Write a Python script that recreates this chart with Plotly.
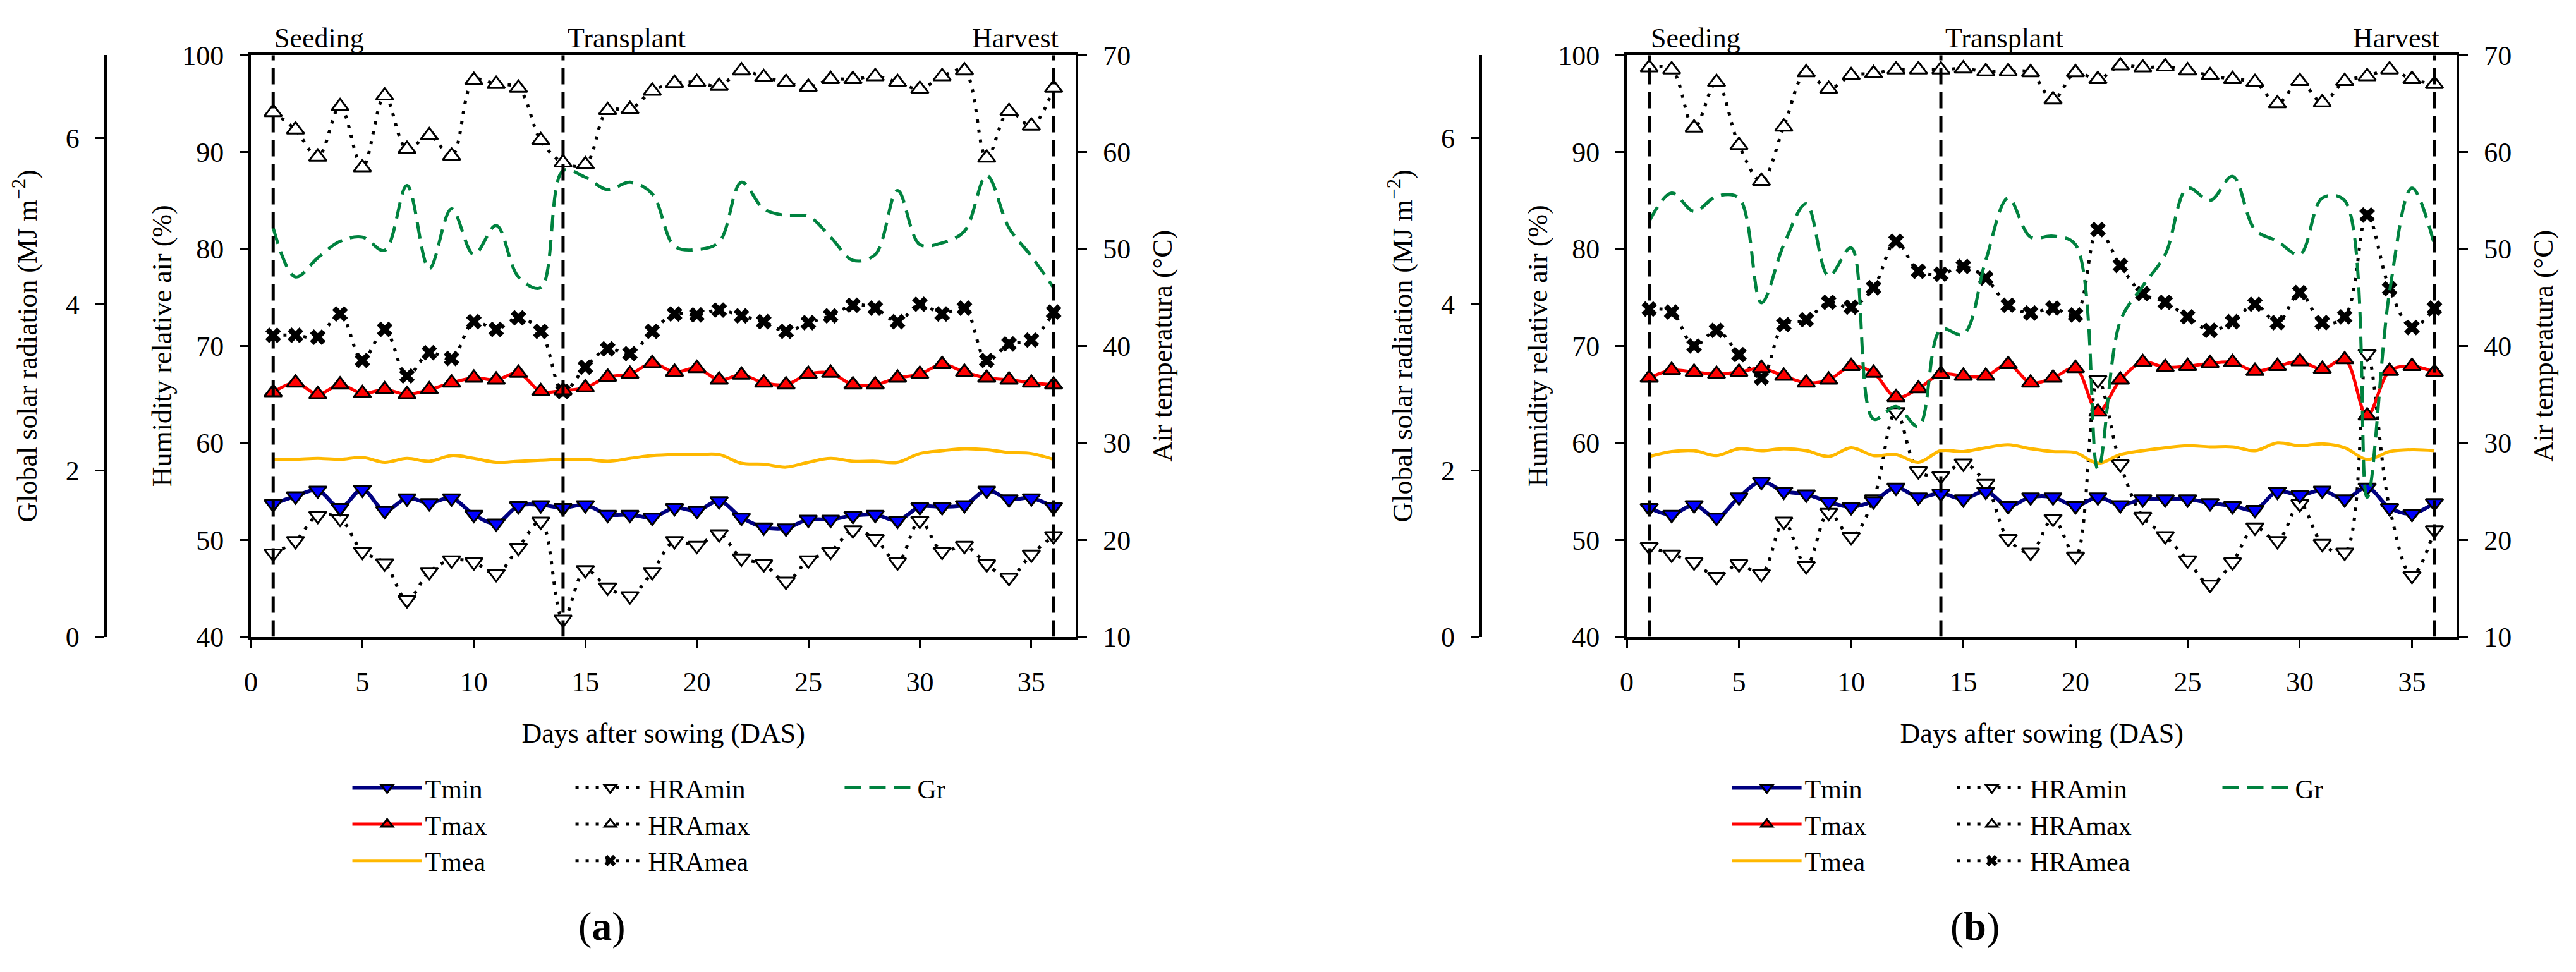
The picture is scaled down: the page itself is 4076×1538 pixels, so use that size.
import plotly.graph_objects as go

# browser keeps its 8px body margin, so the figure is drawn 16px smaller
FW, FH = 4060, 1522
OFF = 8
FONT = "Liberation Serif"


def fx(px):
    return (px - OFF) / FW


def fy(py):
    return 1 - (py - OFF) / FH


days = list(range(1, 37))

# ---- panel (a) ----
tmin_a = [23.7, 24.5, 25.1, 23.3, 25.2, 23.0, 24.3, 23.8, 24.3, 22.6, 21.7, 23.5,
          23.6, 23.3, 23.6, 22.6, 22.6, 22.3, 23.3, 23.0, 24.0, 22.3, 21.3, 21.2,
          22.1, 22.1, 22.5, 22.6, 22.0, 23.4, 23.4, 23.6, 25.1, 24.2, 24.3, 23.4]
tmax_a = [35.2, 36.2, 35.0, 36.0, 35.1, 35.5, 35.0, 35.5, 36.2, 36.7, 36.5, 37.2,
          35.3, 35.4, 35.7, 36.8, 37.1, 38.2, 37.3, 37.7, 36.5, 37.0, 36.2, 36.0,
          37.1, 37.2, 36.0, 36.0, 36.7, 37.1, 38.1, 37.3, 36.7, 36.5, 36.2, 36.0]
tmea_a = [28.3, 28.3, 28.4, 28.3, 28.5, 28.0, 28.4, 28.1, 28.7, 28.4, 28.0, 28.1,
          28.2, 28.3, 28.3, 28.1, 28.4, 28.7, 28.8, 28.8, 28.8, 27.9, 27.8, 27.5,
          28.0, 28.4, 28.1, 28.1, 28.0, 28.9, 29.2, 29.4, 29.3, 29.0, 28.9, 28.3]
hramin_a = [48.6, 49.9, 52.5, 52.2, 48.8, 47.6, 43.8, 46.7, 47.9, 47.7, 46.5, 49.2,
            51.9, 41.8, 46.9, 45.1, 44.2, 46.7, 49.9, 49.4, 50.6, 48.1, 47.5, 45.7,
            47.9, 48.8, 51.0, 50.1, 47.7, 52.0, 48.8, 49.4, 47.5, 46.1, 48.5, 50.4]
hramax_a = [94.1, 92.3, 89.5, 94.7, 88.4, 95.8, 90.3, 91.7, 89.6, 97.4, 97.0, 96.6,
            91.2, 88.9, 88.7, 94.3, 94.4, 96.3, 97.1, 97.2, 96.8, 98.4, 97.7, 97.2,
            96.7, 97.5, 97.5, 97.8, 97.2, 96.5, 97.8, 98.4, 89.4, 94.2, 92.7, 96.6]
hramea_a = [71.1, 71.1, 70.9, 73.3, 68.5, 71.7, 66.9, 69.3, 68.7, 72.5, 71.7, 72.9,
            71.5, 65.3, 67.8, 69.7, 69.2, 71.5, 73.3, 73.2, 73.7, 73.1, 72.5, 71.5,
            72.4, 73.1, 74.2, 73.9, 72.5, 74.3, 73.3, 73.9, 68.5, 70.2, 70.6, 73.5]
gr_a = [4.92, 4.33, 4.56, 4.76, 4.81, 4.65, 5.43, 4.43, 5.15, 4.60, 4.95, 4.33,
        4.20, 5.61, 5.53, 5.38, 5.47, 5.33, 4.70, 4.66, 4.75, 5.47, 5.15, 5.07,
        5.06, 4.81, 4.53, 4.60, 5.37, 4.72, 4.74, 4.88, 5.55, 4.92, 4.58, 4.20]

# ---- panel (b) ----
tmin_b = [23.3, 22.6, 23.6, 22.3, 24.4, 26.0, 25.0, 24.7, 23.9, 23.4, 24.0, 25.4,
          24.4, 24.8, 24.2, 25.0, 23.5, 24.4, 24.4, 23.5, 24.4, 23.6, 24.2, 24.2,
          24.2, 23.8, 23.5, 23.1, 25.0, 24.6, 25.1, 24.2, 25.4, 23.3, 22.7, 23.8]
tmax_b = [36.7, 37.5, 37.3, 37.1, 37.3, 37.7, 36.9, 36.2, 36.5, 37.9, 37.2, 34.7,
          35.6, 37.1, 36.9, 36.9, 38.1, 36.2, 36.7, 37.7, 33.2, 36.5, 38.3, 37.8,
          37.9, 38.2, 38.3, 37.4, 37.9, 38.4, 37.6, 38.6, 32.8, 37.4, 37.9, 37.3]
tmea_b = [28.6, 29.1, 29.2, 28.7, 29.4, 29.2, 29.4, 29.2, 28.6, 29.5, 28.7, 28.8,
          28.0, 29.2, 29.1, 29.5, 29.8, 29.4, 29.1, 29.0, 27.9, 28.8, 29.2, 29.5,
          29.7, 29.6, 29.6, 29.2, 30.0, 29.7, 29.9, 29.5, 28.3, 29.1, 29.3, 29.2]
hramin_b = [49.3, 48.5, 47.7, 46.2, 47.5, 46.5, 51.9, 47.3, 52.8, 50.3, 54.2, 63.2,
            57.1, 56.6, 57.9, 55.8, 50.1, 48.7, 52.2, 48.3, 66.5, 57.8, 52.4, 50.4,
            47.9, 45.4, 47.7, 51.3, 49.9, 53.7, 49.6, 48.7, 69.2, 53.3, 46.3, 51.0]
hramax_b = [98.7, 98.5, 92.5, 97.2, 90.7, 87.0, 92.6, 98.2, 96.5, 97.9, 98.1, 98.5,
            98.5, 98.5, 98.6, 98.3, 98.3, 98.2, 95.4, 98.2, 97.5, 98.9, 98.7, 98.8,
            98.4, 97.9, 97.5, 97.2, 95.0, 97.3, 95.1, 97.3, 97.8, 98.5, 97.5, 97.0]
hramea_b = [73.8, 73.5, 70.0, 71.6, 69.1, 66.7, 72.2, 72.7, 74.5, 74.0, 76.0, 80.8,
            77.7, 77.4, 78.2, 77.0, 74.2, 73.4, 73.9, 73.2, 82.0, 78.3, 75.4, 74.5,
            73.0, 71.6, 72.5, 74.3, 72.4, 75.5, 72.4, 73.0, 83.5, 75.9, 71.9, 73.9]
gr_b = [5.00, 5.34, 5.12, 5.30, 5.28, 4.02, 4.72, 5.21, 4.34, 4.68, 2.62, 2.77,
        2.53, 3.70, 3.64, 4.53, 5.28, 4.81, 4.82, 4.72, 2.02, 3.80, 4.22, 4.60,
        5.40, 5.25, 5.54, 4.90, 4.76, 4.60, 5.28, 5.25, 1.68, 4.15, 5.40, 4.72]

events = [1, 14, 36]
event_names = ["Seeding", "Transplant", "Harvest"]

panels = [
    dict(x="x", hra="y", temp="y2", rad="y3", x0=387, x1=1696, radpos=156,
         legs=["legend", "legend2", "legend3"], legx=[551, 905, 1332], tag="a", tagx=944,
         tmin=tmin_a, tmax=tmax_a, tmea=tmea_a, hmin=hramin_a, hmax=hramax_a,
         hmea=hramea_a, gr=gr_a),
    dict(x="x2", hra="y4", temp="y5", rad="y6", x0=2570, x1=3887, radpos=2338,
         legs=["legend4", "legend5", "legend6"], legx=[2740, 3097, 3518], tag="b", tagx=3122,
         tmin=tmin_b, tmax=tmax_b, tmea=tmea_b, hmin=hramin_b, hmax=hramax_b,
         hmea=hramea_b, gr=gr_b),
]

DOTS = "5px,11px"
fig = go.Figure()

for p in panels:
    xr = p["x"]
    lg = p["legs"]
    fig.add_trace(go.Scatter(x=days, y=p["tmin"], name="Tmin", xaxis=xr, yaxis=p["temp"],
                             mode="lines+markers", legend=lg[0],
                             line=dict(color="#000080", width=6, shape="spline"),
                             marker=dict(symbol="triangle-down", size=24, color="#0000FF",
                                         line=dict(color="black", width=3))))
    fig.add_trace(go.Scatter(x=days, y=p["tmax"], name="Tmax", xaxis=xr, yaxis=p["temp"],
                             mode="lines+markers", legend=lg[0],
                             line=dict(color="#FF0000", width=5, shape="spline"),
                             marker=dict(symbol="triangle-up", size=24, color="#FF0000",
                                         line=dict(color="black", width=3))))
    fig.add_trace(go.Scatter(x=days, y=p["tmea"], name="Tmea", xaxis=xr, yaxis=p["temp"],
                             mode="lines", legend=lg[0],
                             line=dict(color="#FFB800", width=5, shape="spline")))
    fig.add_trace(go.Scatter(x=days, y=p["hmin"], name="HRAmin", xaxis=xr, yaxis=p["hra"],
                             mode="lines+markers", legend=lg[1],
                             line=dict(color="black", width=5, dash=DOTS, shape="spline"),
                             marker=dict(symbol="triangle-down", size=24, color="white",
                                         line=dict(color="black", width=3))))
    fig.add_trace(go.Scatter(x=days, y=p["hmax"], name="HRAmax", xaxis=xr, yaxis=p["hra"],
                             mode="lines+markers", legend=lg[1],
                             line=dict(color="black", width=5, dash=DOTS, shape="spline"),
                             marker=dict(symbol="triangle-up", size=24, color="white",
                                         line=dict(color="black", width=3))))
    fig.add_trace(go.Scatter(x=days, y=p["hmea"], name="HRAmea", xaxis=xr, yaxis=p["hra"],
                             mode="lines+markers", legend=lg[1],
                             line=dict(color="black", width=5, dash=DOTS, shape="spline"),
                             marker=dict(symbol="x", size=22, color="black",
                                         line=dict(width=0))))
    fig.add_trace(go.Scatter(x=days, y=p["gr"], name="Gr", xaxis=xr, yaxis=p["rad"],
                             mode="lines", legend=lg[2],
                             line=dict(color="#00823F", width=5, dash="26px,13px",
                                       shape="spline")))

tick_font = dict(family=FONT, size=44, color="black")
title_font = dict(family=FONT, size=44, color="black")
common = dict(showline=True, linecolor="black", linewidth=4, ticks="outside",
              ticklen=14, tickwidth=3, tickcolor="black", showgrid=False,
              zeroline=False, tickfont=tick_font, ticklabelstandoff=16)

layout = dict(
    width=FW, height=FH, margin=dict(l=0, r=0, t=0, b=0),
    paper_bgcolor="white", plot_bgcolor="white",
    font=dict(family=FONT, size=44, color="black"),
    shapes=[], annotations=[],
)

for p in panels:
    xa = "xaxis" + p["x"][1:]
    ha = "yaxis" + p["hra"][1:]
    ta = "yaxis" + p["temp"][1:]
    ra = "yaxis" + p["rad"][1:]
    layout[xa] = dict(common, domain=[fx(p["x0"]), fx(p["x1"])], anchor=p["hra"],
                      range=[0, 37], tick0=0, dtick=5, mirror=True,
                      title=dict(text="Days after sowing (DAS)", font=title_font, standoff=42))
    layout[ha] = dict(common, domain=[fy(1016), fy(65)], anchor=p["x"],
                      range=[40, 100], dtick=10,
                      title=dict(text="Humidity relative air (%)", font=title_font, standoff=4))
    layout[ta] = dict(common, overlaying=p["hra"], anchor=p["x"], side="right",
                      range=[10, 70], dtick=10,
                      title=dict(text="Air temperatura (°C)", font=title_font, standoff=36))
    layout[ra] = dict(common, overlaying=p["hra"], anchor="free", position=fx(p["radpos"]),
                      side="left", range=[0, 7], tickvals=[0, 2, 4, 6],
                      title=dict(text="Global solar radiation (MJ m<sup>−2</sup>)",
                                 font=title_font, standoff=30))

    for d, name in zip(events, event_names):
        layout["shapes"].append(dict(type="line", xref=p["x"], yref=p["hra"],
                                     x0=d, x1=d, y0=40, y1=100,
                                     line=dict(color="black", width=5, dash="26px,12px")))
        right = name == "Harvest"
        layout["annotations"].append(dict(
            text=name, xref=p["x"], x=d, yref="paper", y=fy(65),
            xanchor="right" if right else "left", yanchor="bottom",
            xshift=10 if right else (5 if d == 14 else 0), yshift=0,
            showarrow=False, font=dict(family=FONT, size=44, color="black")))

    layout["annotations"].append(dict(
        text="(<b>" + p["tag"] + "</b>)", xref="paper", yref="paper",
        x=fx(p["tagx"]), y=fy(1489), xanchor="center", yanchor="middle",
        showarrow=False, font=dict(family=FONT, size=64, color="black")))

    for key, lx in zip(p["legs"], p["legx"]):
        layout[key] = dict(x=fx(lx - 8), y=fy(1228), xanchor="left", yanchor="top",
                           orientation="v", bgcolor="rgba(0,0,0,0)", borderwidth=0,
                           itemwidth=110, font=dict(family=FONT, size=42, color="black"))

fig.update_layout(layout)
fig.write_html("out.html")
